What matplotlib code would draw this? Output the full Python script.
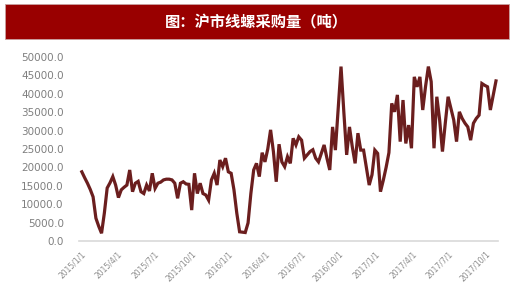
import matplotlib
matplotlib.use("Agg")
import matplotlib.pyplot as plt
import matplotlib.dates as mdates
from matplotlib.patches import Rectangle
import pandas as pd

plt.rcParams['font.family'] = ['Noto Sans CJK SC', 'DejaVu Sans']

title = "图：沪市线螺采购量（吨）"
dates = pd.date_range("2015-01-02", periods=148, freq="7D")
values = [
    18800, 17200, 15700, 14000, 12000, 6200, 4000, 2100, 7600, 14400,
    15800, 17500, 15200, 11800, 13900, 14600, 15200, 19300, 13400, 15700,
    16200, 13400, 12900, 15200, 13600, 18400, 14300, 15700, 16000, 16600,
    16800, 16800, 16600, 15700, 11600, 15700, 16100, 15500, 15400, 8400,
    18400, 12900, 15700, 12900, 12500, 11100, 16600, 18400, 15200, 22000,
    20200, 22500, 18800, 18400, 13900, 7600, 2500, 2400, 2300, 4900,
    12900, 19300, 21100, 17500, 24000, 21500, 25000, 30200, 24300, 16100,
    26300, 21500, 20200, 22900, 21100, 27900, 26100, 28300, 27400, 22500,
    23400, 24300, 24800, 22500, 21500, 23800, 26100, 22500, 19300, 31000,
    24700, 36000, 47400, 35000, 23400, 31000, 25600, 21100, 29300, 24700,
    24700, 20000, 15200, 18000, 24700, 23800, 13400, 16500, 20000, 24000,
    37400, 35100, 39700, 27000, 38300, 26500, 31500, 25200, 44600, 41900,
    44600, 35600, 42000, 47400, 43300, 25200, 39200, 32900, 24300, 32000,
    39200, 36000, 32900, 27000, 35100, 33300, 32000, 31000, 27400, 32000,
    33300, 34200, 42800, 42300, 41900, 35600, 39500, 43500,
]
tick_dates = pd.date_range("2015-01-01", "2017-10-01", freq="3MS")
tick_labels = [f"{d.year}/{d.month}/{d.day}" for d in tick_dates]
y_ticks = list(range(0, 50001, 5000))

fig = plt.figure(figsize=(5.2, 2.96), dpi=100)
fig.patch.set_facecolor("white")
fig.patches.append(Rectangle((5 / 520, 1 - 39 / 296), 504 / 520, 35 / 296,
                             transform=fig.transFigure, facecolor="#990000",
                             edgecolor="#c9a0a0", linewidth=0.6, zorder=0))
fig.text(256 / 520, 1 - 22 / 296, title, color="white", fontsize=11,
         fontweight="bold", ha="center", va="center")

ax = fig.add_axes([79 / 520, 1 - 241 / 296, 419 / 520, 184 / 296])
ax.plot(dates, values, color="#6B1E1E", linewidth=2.3, solid_joinstyle="miter")
ax.set_ylim(0, 50000)
ax.set_xlim(pd.Timestamp("2014-12-26"), pd.Timestamp("2017-11-01"))
ax.set_yticks(y_ticks)
ax.set_yticklabels([f"{v:.1f}" for v in y_ticks], color="#7f7f7f", fontsize=7.5,
                   family=['DejaVu Sans'])
ax.set_xticks(tick_dates)
ax.set_xticklabels(tick_labels, rotation=45, ha="right", va="top",
                   rotation_mode="anchor", color="#8c8c8c", fontsize=5.5,
                   family=['DejaVu Sans'])
ax.tick_params(axis="y", length=0, pad=11)
ax.tick_params(axis="x", length=0, pad=6)
for s in ["top", "right", "left"]:
    ax.spines[s].set_visible(False)
ax.spines["bottom"].set_color("#d9d9d9")
ax.spines["bottom"].set_linewidth(1.2)
ax.set_facecolor("none")

fig.savefig("out.png", dpi=100)
